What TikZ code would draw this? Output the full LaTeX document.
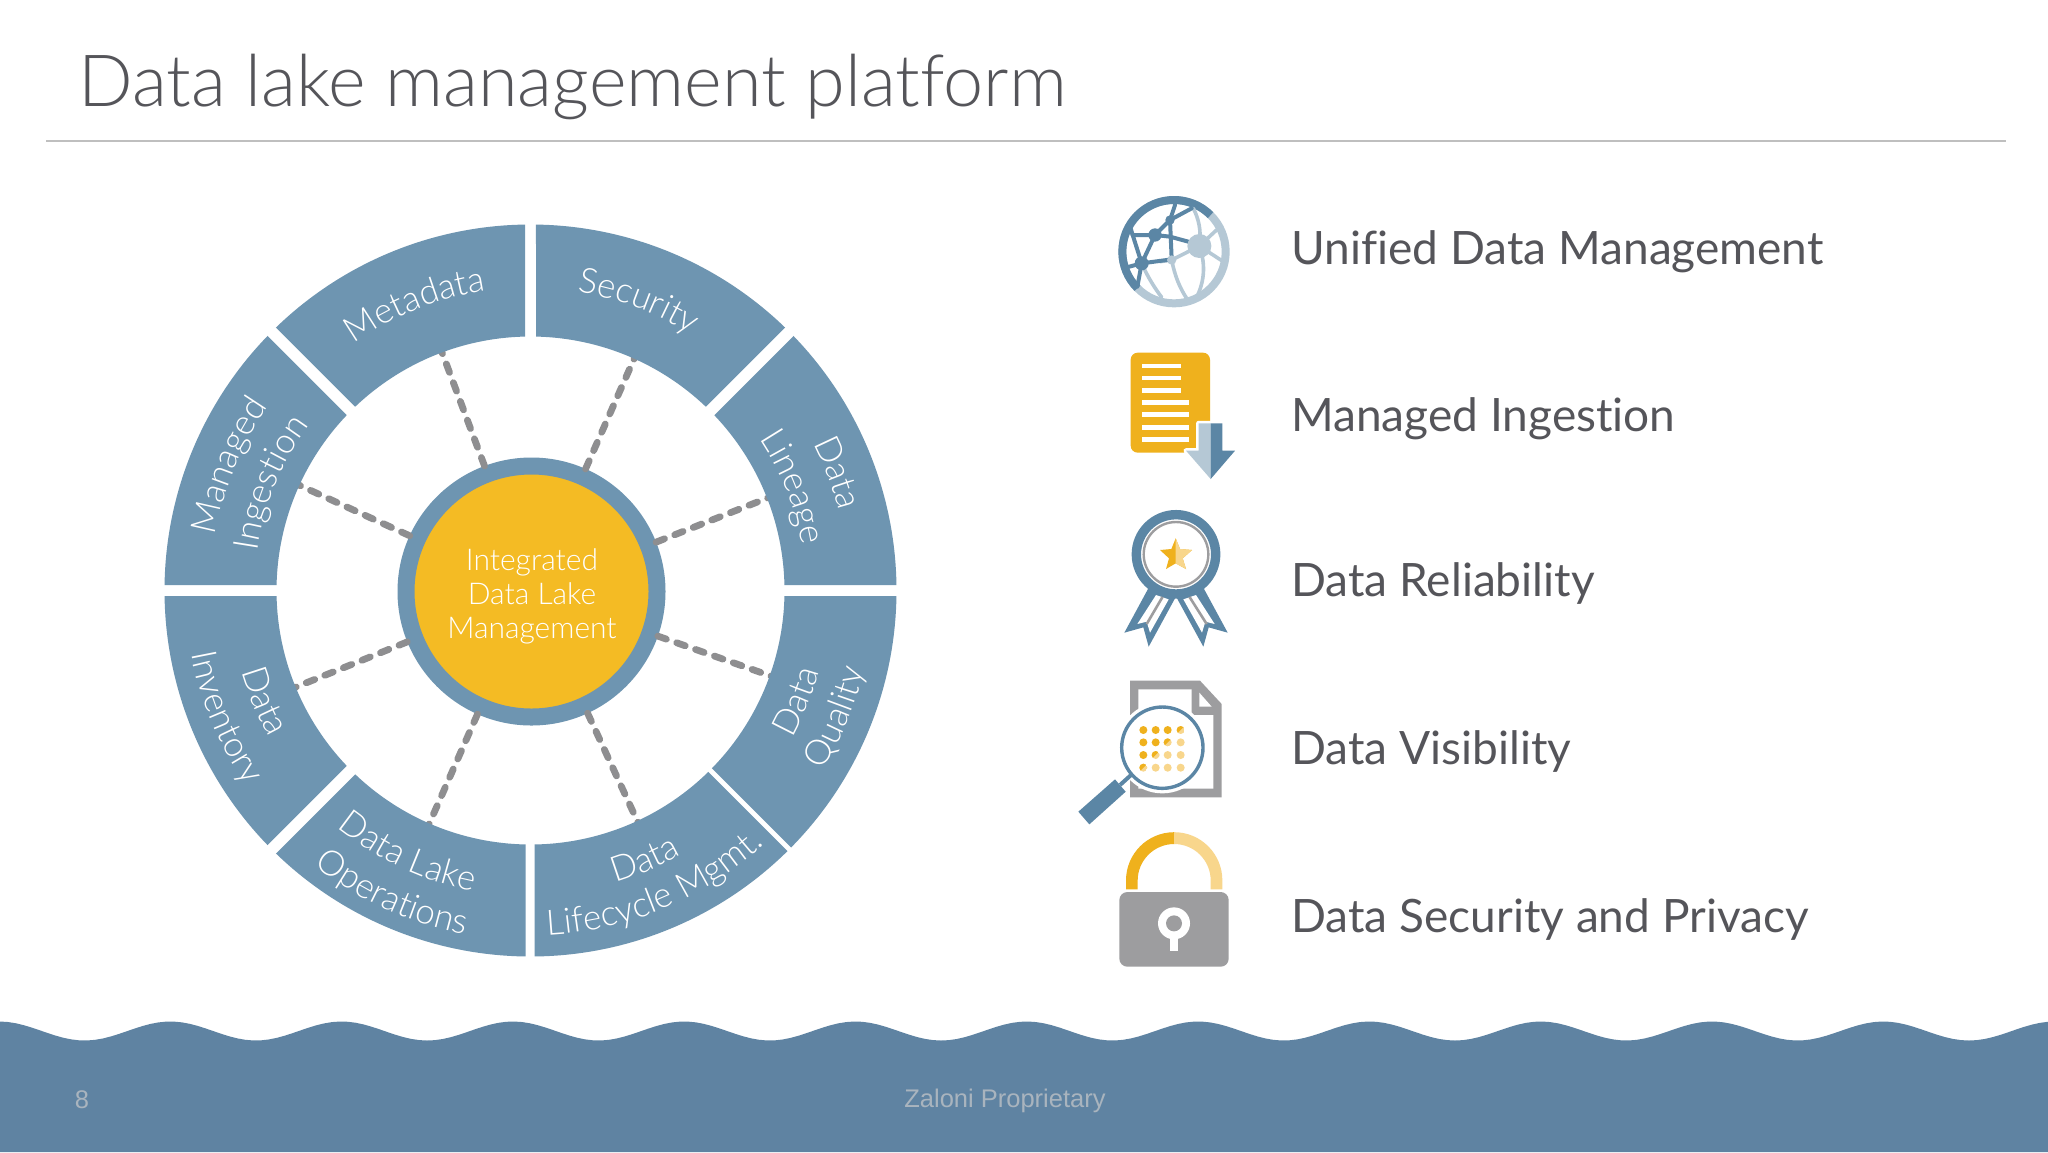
\documentclass[tikz,border=0pt]{standalone}
\usepackage{fontspec}
\setmainfont{Lato}[UprightFont={* Light},Ligatures=CommonOff]
\newfontfamily\regfont{Lato}[Ligatures=CommonOff]
\newfontfamily\arialfont{Liberation Sans}
\usetikzlibrary{decorations.text}
\definecolor{segblue}{HTML}{6E95B1}
\definecolor{waveblue}{HTML}{5F83A2}
\definecolor{iconblue}{HTML}{5B86A5}
\definecolor{iconlight}{HTML}{B5C8D5}
\definecolor{hubyellow}{HTML}{F4BB24}
\definecolor{icony}{HTML}{EFB11D}
\definecolor{iconyl}{HTML}{F8D68C}
\definecolor{icongray}{HTML}{9D9D9F}
\definecolor{spokegray}{HTML}{8E8E90}
\definecolor{inktext}{HTML}{55555A}
\definecolor{foot}{HTML}{A9B4BE}
\tikzset{
  hubnode/.style={circle,draw=segblue,line width=8.5pt,fill=hubyellow,minimum size=125.5pt,inner sep=0pt},
  hubtext/.style={inner sep=0pt,text=white,align=center,font=\fontsize{15}{17}\selectfont},
  spoke/.style={draw=spokegray,line width=3.4pt,line cap=round,dash pattern=on 4.5pt off 5.5pt,shorten >=-4pt},
  segment/.style={fill=segblue},
  feature/.style={anchor=west,inner sep=0pt,text=inktext,font=\regfont\fontsize{23}{27}\selectfont},
  icon/.style={shift={(#1)},x=0.16667pt,y=-0.16667pt},
  dkline/.style={draw=iconblue,line width=2pt,line cap=round},
  ltline/.style={draw=iconlight,line width=1.8pt,line cap=round}
}
\def\Rout{366}
\def\Rin{254}
% start angle, end angle, half gap at start, half gap at end
\newcommand\ringseg[4]{%
  \pgfmathsetmacro\oa{#1+asin(#3/\Rout)}%
  \pgfmathsetmacro\ob{#2-asin(#4/\Rout)}%
  \pgfmathsetmacro\ia{#1+asin(#3/\Rin)}%
  \pgfmathsetmacro\ib{#2-asin(#4/\Rin)}%
  \fill[segment] (\oa:\Rout) arc[start angle=\oa,end angle=\ob,radius=\Rout] -- (\ib:\Rin) arc[start angle=\ib,end angle=\ia,radius=\Rin] -- cycle;%
}
% from angle, to angle, baseline radius, text
\newcommand\ringtext[4]{%
  \path[postaction={decorate},decoration={text along path,text align=center,text color=white,
    text={|\fontsize{17.5}{20}\selectfont|#4}}]
    (#1:#3) arc[start angle=#1,end angle=#2,radius=#3];%
}
\newcommand\halfdot[2]{%
  \begin{scope}
    \clip (#1,#2) circle (12);
    \fill[iconyl] (#1,#2) circle (12);
    \fill[icony] (#1-12,#2-12) -- (#1+12,#2-12) -- (#1-12,#2+12) -- cycle;
  \end{scope}%
}
\begin{document}
\begin{tikzpicture}[x=0.5pt,y=-0.5pt]
\useasboundingbox (0,0) rectangle (2048,1152);
\fill[white] (0,0) rectangle (2048,1152);

% title
\node[anchor=west,inner sep=0pt,text=inktext,font=\fontsize{36}{42}\selectfont] (title) at (78,87) {Data lake management platform};
\coordinate (ruleL) at (46,141);
\coordinate (ruleR) at (2006,141);
\draw[color=black!25,line width=1pt] (ruleL) -- (ruleR);

% wave
\fill[waveblue] plot[domain=0:2048,samples=260] (\x,{1031-9.5*cos(2.1016*(\x+1))}) -- (2048,1152) -- (0,1152) -- cycle;
\node[text=foot,font=\arialfont\fontsize{12.75}{15}\selectfont,inner sep=0pt] (pagenum) at (82,1100) {8};
\node[text=foot,font=\arialfont\fontsize{12.75}{15}\selectfont,inner sep=0pt] (prop) at (1005,1101) {Zaloni Proprietary};

% hub and spokes
\node[hubnode] (hub) at (531.5,591.5) {};
\node[hubtext] (hubt) at (532,596) {Integrated\\Data Lake\\Management};
\coordinate (eMeta) at (443,355);
\coordinate (eSec) at (634,359);
\coordinate (eMan) at (301,486);
\coordinate (eLin) at (770,497);
\coordinate (eInv) at (296,687);
\coordinate (eQua) at (768,675);
\coordinate (eOps) at (430,822);
\coordinate (eLif) at (635,816);
\foreach \e in {eMeta,eSec,eMan,eLin,eInv,eQua,eOps,eLif} \draw[spoke] (hub) -- (\e);

% ring
\begin{scope}[shift={(530.5,590.5)}]
  \ringseg{0}{45}{5.5}{2.5}
  \ringseg{45}{90}{2.5}{4}
  \ringseg{90}{135}{5}{6}
  \ringseg{135}{180}{6}{5.5}
  \ringseg{180}{225}{5.5}{6}
  \ringseg{225}{270}{6}{5.5}
  \ringseg{270}{315}{5.5}{6}
  \ringseg{315}{360}{6}{5.5}
  \ringtext{225.5}{270.5}{303}{Metadata}
  \ringtext{268}{313}{302}{Security}
  \ringtext{180}{225}{320}{Managed}
  \ringtext{180}{225}{276}{Ingestion}
  \ringtext{316.5}{361.5}{319}{Data}
  \ringtext{316}{361}{275}{Lineage}
  \ringtext{45}{0}{300}{Data}
  \ringtext{45}{0}{343}{Quality}
  \ringtext{89.5}{44.5}{304}{Data}
  \ringtext{89.7}{44.7}{345}{Lifecycle Mgmt.}
  \ringtext{137.5}{92.5}{306}{Data Lake}
  \ringtext{137}{92}{350}{Operations}
  \ringtext{180}{135}{300}{Data}
  \ringtext{180}{135}{345}{Inventory}
\end{scope}

% feature labels
\node[feature] (f1) at (1291,252) {Unified Data Management};
\node[feature] (f2) at (1291,419) {Managed Ingestion};
\node[feature] (f3) at (1291,583) {Data Reliability};
\node[feature] (f4) at (1291,751) {Data Visibility};
\node[feature] (f5) at (1291,919) {Data Security and Privacy};

% globe icon
\begin{scope}[icon={1060,180}]
  \draw[iconlight,line width=4pt] (342,215) circle (155);
  \draw[iconblue,line width=4pt] (342,215) ++(-45:155) arc[start angle=-45,end angle=-225,radius=155];
  \draw[ltline] (418,198) .. controls (425,150) and (415,115) .. (400,85);
  \draw[ltline] (418,198) -- (475,145);
  \draw[ltline] (418,198) -- (490,245);
  \draw[ltline] (418,198) .. controls (440,260) and (430,310) .. (410,352);
  \draw[ltline] (335,240) .. controls (345,290) and (360,325) .. (380,355);
  \draw[ltline] (245,250) .. controls (265,295) and (285,325) .. (305,352);
  \draw[ltline] (418,198) -- (335,240);
  \draw[ltline] (335,240) -- (300,245);
  \draw[dkline] (285,165) -- (245,250);
  \draw[dkline] (285,165) -- (330,120) -- (345,75);
  \draw[dkline] (330,120) -- (395,85);
  \draw[dkline] (285,165) -- (218,165) -- (245,250);
  \draw[dkline] (218,165) -- (212,145);
  \draw[dkline] (245,250) -- (200,262);
  \draw[dkline] (245,250) -- (232,320);
  \draw[dkline] (245,250) -- (335,238) -- (330,120);
  \draw[dkline] (285,165) -- (330,170) -- (385,185);
  \fill[iconblue] (285,165) circle (20);
  \fill[iconblue] (245,250) circle (21);
  \fill[iconblue] (330,120) circle (14);
  \fill[iconlight] (418,198) circle (36);
  \fill[iconlight] (335,240) circle (14);
\end{scope}

% document icon
\begin{scope}[icon={1060,180}]
  \fill[icony,rounded corners=3.5pt] (212,518) rectangle (450,818);
  \foreach \yy in {558,594,631} \fill[white] (247,\yy-7) rectangle (364,\yy+7);
  \foreach \yy in {667,703,742,778} \fill[white] (247,\yy-7) rectangle (386,\yy+7);
  \draw[white,line width=2.6pt,fill=white,line join=round] (416,730) -- (416,812) -- (378,812) -- (452,897) -- (525,812) -- (487,812) -- (487,730) -- cycle;
  \fill[iconlight] (452,730) -- (416,730) -- (416,812) -- (378,812) -- (452,897) -- cycle;
  \fill[iconblue] (452,730) -- (487,730) -- (487,812) -- (525,812) -- (452,897) -- cycle;
\end{scope}

% medal icon
\begin{scope}[icon={1060,500}]
  \fill[iconblue,line join=round] (265,265) -- (193,398) -- (250,382) -- (266,440) -- (345,295) -- cycle;
  \fill[iconblue,line join=round] (431,265) -- (503,398) -- (446,382) -- (430,440) -- (351,295) -- cycle;
  \fill[white] (288,285) -- (232,372) -- (260,365) -- (270,398) -- (326,298) -- cycle;
  \fill[white] (408,285) -- (464,372) -- (436,365) -- (426,398) -- (370,298) -- cycle;
  \draw[icongray,line width=1.3pt] (308,290) -- (260,372);
  \draw[icongray,line width=1.3pt] (388,290) -- (440,372);
  \draw[iconblue,line width=4.7pt,fill=white] (348,163) circle (119);
  \draw[icongray,line width=1.2pt] (348,163) circle (97);
  \fill[icony] (347,115) -- (360,147) -- (396,150) -- (368,175) -- (378,207) -- (347,190) -- (318,207) -- (327,175) -- (300,150) -- (334,147) -- cycle;
  \fill[iconyl] (347,115) -- (360,147) -- (396,150) -- (368,175) -- (378,207) -- (347,190) -- cycle;
\end{scope}

% document with magnifier icon
\begin{scope}[icon={1060,500}]
  \fill[icongray] (210,542) -- (420,542) -- (485,612) -- (485,892) -- (210,892) -- cycle;
  \fill[white] (235,568) -- (395,568) -- (395,645) -- (460,645) -- (460,866) -- (235,866) -- cycle;
  \fill[white] (418,578) -- (455,620) -- (418,620) -- cycle;
  \fill[white] (307,743) circle (137);
  \draw[iconblue,line width=1.7pt] (307,743) circle (122);
  \draw[iconblue,line width=2pt] (213,825) -- (180,855);
  \fill[iconblue] (165,838) -- (197,875) -- (88,973) -- (55,935) -- cycle;
  \foreach \xx in {250,287,323} \fill[icony] (\xx,690) circle (12);
  \halfdot{362}{690}
  \foreach \xx in {250,287} \fill[icony] (\xx,727) circle (12);
  \halfdot{323}{727}
  \fill[iconyl] (362,727) circle (12);
  \fill[icony] (250,765) circle (12);
  \halfdot{287}{765}
  \foreach \xx in {323,362} \fill[iconyl] (\xx,765) circle (12);
  \halfdot{250}{803}
  \foreach \xx in {287,323,362} \fill[iconyl] (\xx,803) circle (12);
\end{scope}

% lock icon
\begin{scope}[icon={1060,500}]
  \fill[icony] (198,1168) -- (198,1141) arc[start angle=180,end angle=270,radius=144.5] -- (342.5,1032) arc[start angle=270,end angle=180,radius=109.5] -- (233,1168) -- cycle;
  \fill[iconyl] (487,1168) -- (487,1141) arc[start angle=360,end angle=270,radius=144.5] -- (342.5,1032) arc[start angle=270,end angle=360,radius=109.5] -- (452,1168) -- cycle;
  \fill[icongray,rounded corners=4pt] (178,1176) rectangle (506,1400);
  \fill[white] (342,1270) circle (48);
  \fill[white] (331,1305) rectangle (354,1352);
  \fill[icongray] (342,1270) circle (24);
\end{scope}
\end{tikzpicture}
\end{document}
